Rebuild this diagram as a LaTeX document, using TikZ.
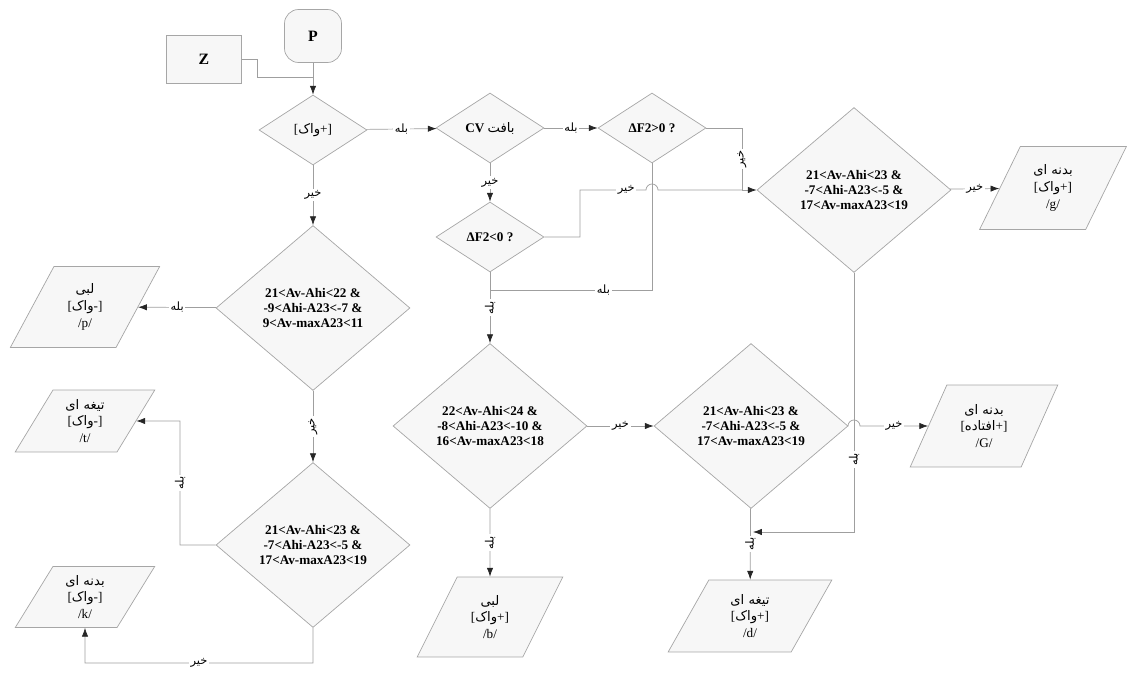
\documentclass[tikz,border=0pt]{standalone}
\usepackage{fontspec}
\setmainfont{Liberation Serif}
\newfontfamily\arabicfont[Script=Arabic]{DejaVu Sans}
\TeXXeTstate=1
\usetikzlibrary{arrows.meta,shapes.geometric}
\newcommand{\pers}[1]{{\arabicfont\mdseries\beginR #1\endR}}
% feature in brackets, sign on the right as printed
\newcommand{\feat}[2]{{\mdseries[\pers{#2}#1]}}

\begin{document}
\begin{tikzpicture}[
  x=0.02cm, y=-0.02cm,
  start/.style={rectangle, rounded corners=8pt, draw=gray!70, fill=gray!6,
                minimum width=1.14cm, minimum height=1.06cm, font=\small\bfseries},
  ext/.style={rectangle, draw=gray!70, fill=gray!6,
              minimum width=1.5cm, minimum height=0.96cm, font=\small\bfseries},
  dec/.style={diamond, aspect=1.5, draw=gray!70, fill=gray!6, inner sep=0pt,
              minimum width=2.16cm, minimum height=1.4cm,
              font=\fontsize{7.5}{9}\selectfont\bfseries},
  cond/.style={diamond, aspect=1.2, draw=gray!70, fill=gray!6, inner sep=0pt,
               align=center, minimum width=3.88cm, minimum height=3.3cm,
               font=\fontsize{7.5}{8.6}\selectfont\bfseries},
  phone/.style={trapezium, trapezium left angle=62, trapezium right angle=118,
                trapezium stretches=true, draw=gray!70, fill=gray!6,
                inner sep=0pt, align=center, font=\fontsize{7.5}{9.5}\selectfont},
  line/.style={draw=gray!75},
  arr/.style={draw=gray!75, -{Latex[length=5pt,width=3.6pt,black!85]}},
  lbl/.style={fill=white, inner sep=1pt, font=\fontsize{6.5}{6.5}\selectfont},
]
  \useasboundingbox (0,0) rectangle (1127,675);

  % --- start ---
  \node[start] (P) at (313,36) {P};
  \node[ext] (Z) at (204,59) {Z};

  % --- decisions ---
  \node[dec] (voice) at (313,130) {\feat{+}{واک}};
  \node[dec] (cv) at (490,128) {\beginR\pers{بافت} \beginL CV\endL\endR};
  \node[dec] (fpos) at (652,128) {ΔF2>0 ?};
  \node[dec] (fneg) at (490,237) {ΔF2<0 ?};

  \node[cond] (cg) at (854,190) {21<Av-Ahi<23 \&\\-7<Ahi-A23<-5 \&\\17<Av-maxA23<19};
  \node[cond] (cp) at (313,308) {21<Av-Ahi<22 \&\\-9<Ahi-A23<-7 \&\\9<Av-maxA23<11};
  \node[cond] (ct) at (313,545) {21<Av-Ahi<23 \&\\-7<Ahi-A23<-5 \&\\17<Av-maxA23<19};
  \node[cond] (cb) at (490,426) {22<Av-Ahi<24 \&\\-8<Ahi-A23<-10 \&\\16<Av-maxA23<18};
  \node[cond] (cd) at (751,426) {21<Av-Ahi<23 \&\\-7<Ahi-A23<-5 \&\\17<Av-maxA23<19};

  % --- outputs ---
  \node[phone, minimum width=3.0cm, minimum height=1.62cm] (bp) at (85,307)
    {\pers{لبی}\\\feat{-}{واک}\\/p/};
  \node[phone, minimum width=2.8cm, minimum height=1.24cm] (bt) at (85,421)
    {\pers{تیغه ای}\\\feat{-}{واک}\\/t/};
  \node[phone, minimum width=2.8cm, minimum height=1.22cm] (bk) at (85,597)
    {\pers{بدنه ای}\\\feat{-}{واک}\\/k/};
  \node[phone, minimum width=2.92cm, minimum height=1.6cm] (bb) at (490,617)
    {\pers{لبی}\\\feat{+}{واک}\\/b/};
  \node[phone, trapezium left angle=66, trapezium right angle=114,
        minimum width=3.28cm, minimum height=1.44cm] (bd) at (750,616)
    {\pers{تیغه ای}\\\feat{+}{واک}\\/d/};
  \node[phone, minimum width=2.96cm, minimum height=1.64cm] (bG) at (984,426)
    {\pers{بدنه ای}\\\feat{+}{افتاده}\\/G/};
  \node[phone, minimum width=2.94cm, minimum height=1.66cm] (bg) at (1053,188)
    {\pers{بدنه ای}\\\feat{+}{واک}\\/g/};

  % --- connectors ---
  \coordinate (zj) at (313,77);
  \coordinate (jr) at (742,190);
  \coordinate (jb) at (490,290);
  \coordinate (jd) at (753,532);
  \coordinate (jt) at (180,421);
  \coordinate (jk) at (85,663);

  \draw[arr] (P) -- (voice);
  \draw[line] (Z.east) -- ++(16,0) |- (zj);
  \draw[arr] (voice) -- node[lbl]{\pers{بله}} (cv);
  \draw[arr] (cv) -- node[lbl]{\pers{بله}} (fpos);
  \draw[arr] (fpos.east) -| node[lbl, rotate=90, pos=0.75]{\pers{خیر}} (jr) -- (cg.west);
  \draw[arr] (cv) -- node[lbl]{\pers{خیر}} (fneg);
  \draw[line] (fneg.east) -| (580,190) -- node[lbl, pos=0.7]{\pers{خیر}} (646,190)
    arc[start angle=180, end angle=0, radius=0.12cm] -- (jr);
  \draw[line] (fpos.south) |- node[lbl, pos=0.65]{\pers{بله}} (jb);
  \draw[arr] (fneg) -- node[lbl, rotate=90]{\pers{بله}} (cb);

  \draw[arr] (voice) -- node[lbl]{\pers{خیر}} (cp);
  \draw[arr] (cp) -- node[lbl]{\pers{بله}} (bp);
  \draw[arr] (cp) -- node[lbl, rotate=90]{\pers{خیر}} (ct);
  \draw[arr] (ct.west) -| node[lbl, rotate=90, pos=0.75]{\pers{بله}} (jt) -- (bt.east);
  \draw[arr] (ct.south) |- node[lbl, pos=0.75]{\pers{خیر}} (jk) -- (bk.south);

  \draw[arr] (cb) -- node[lbl, rotate=90]{\pers{بله}} (bb);
  \draw[arr] (cb) -- node[lbl]{\pers{خیر}} (cd);
  \draw[arr] (cd.east) -- (848,426) arc[start angle=180, end angle=0, radius=0.12cm]
    -- node[lbl]{\pers{خیر}} (bG.west);
  \draw[arr] (cd) -- node[lbl, rotate=90]{\pers{بله}} (bd);
  \draw[arr] (cg.south) |- node[lbl, rotate=90, pos=0.36]{\pers{بله}} (jd);
  \draw[arr] (cg) -- node[lbl]{\pers{خیر}} (bg);
\end{tikzpicture}
\end{document}
